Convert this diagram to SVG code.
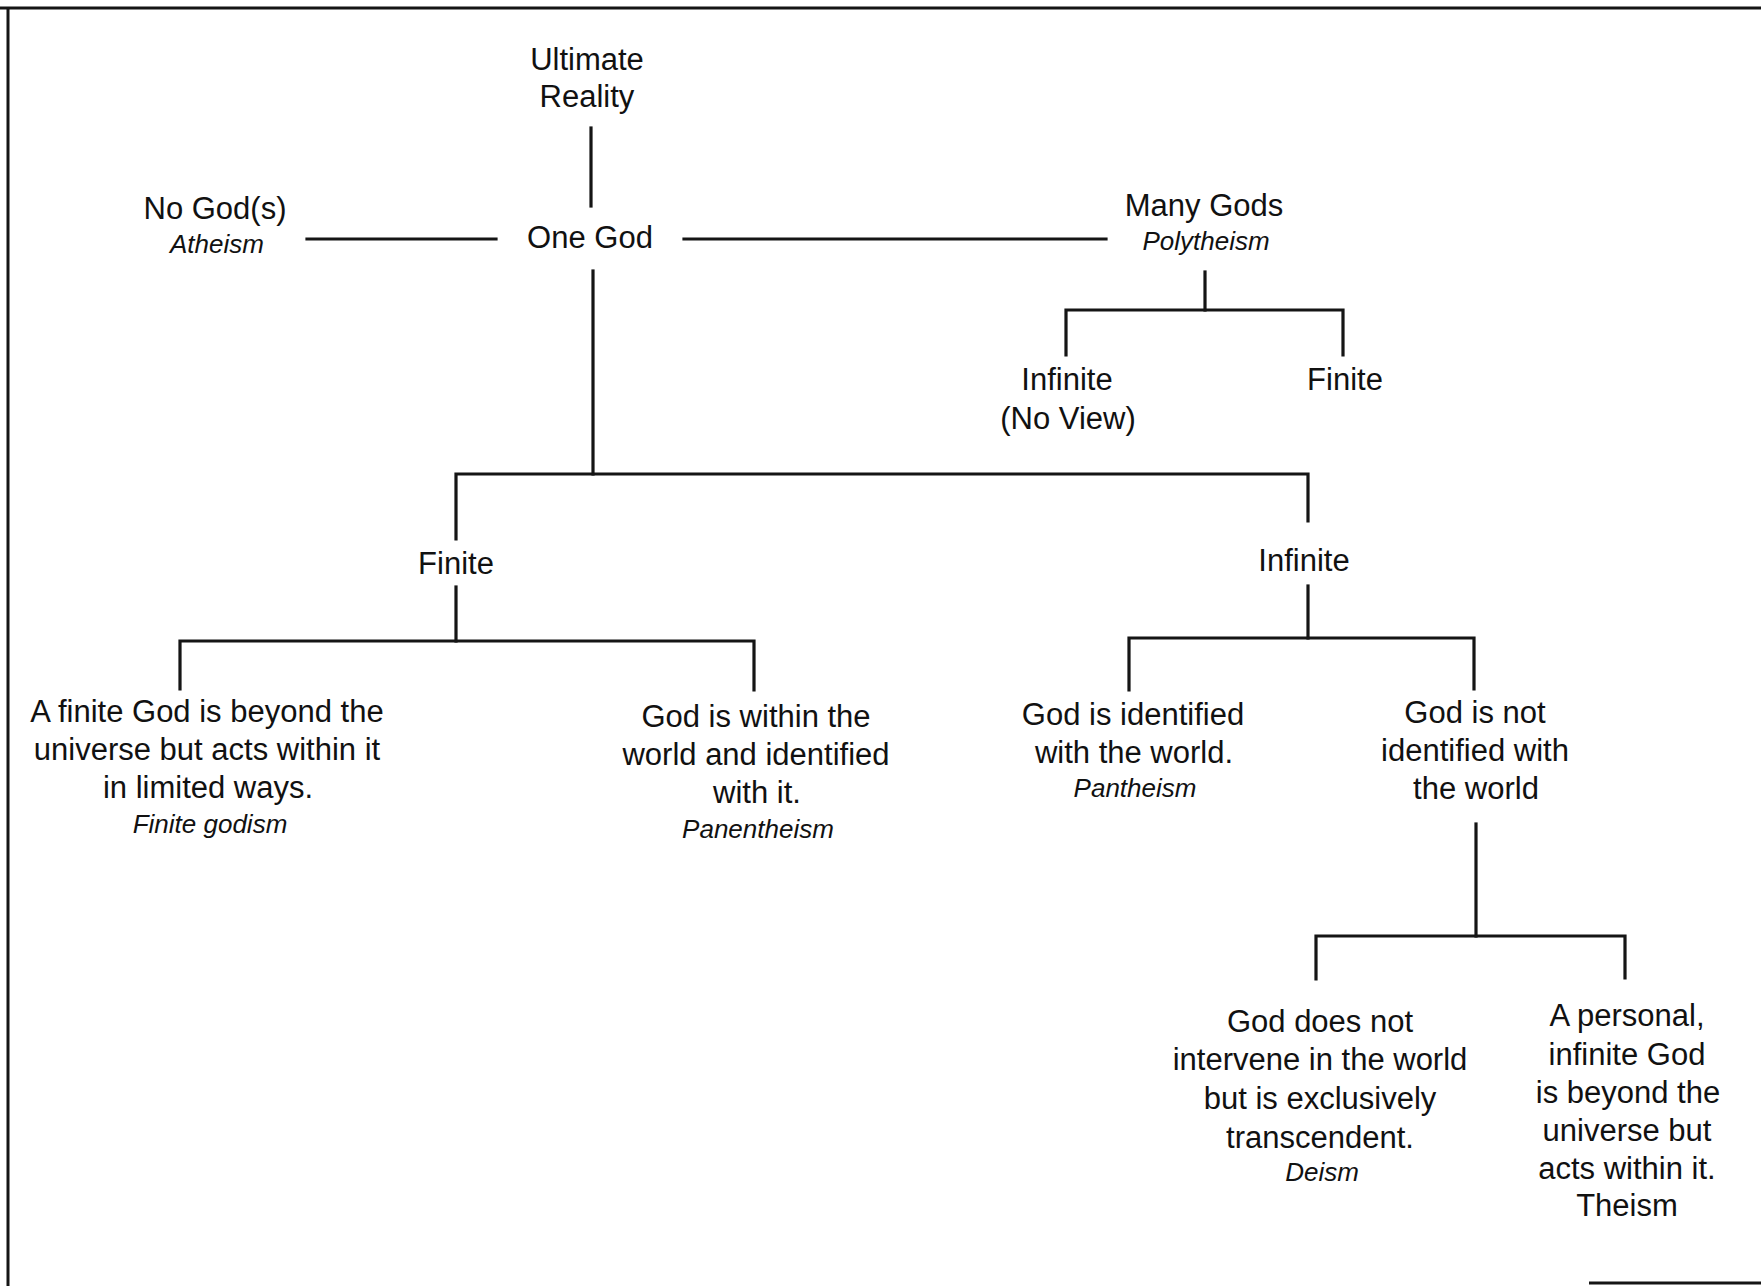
<svg xmlns="http://www.w3.org/2000/svg" width="1761" height="1286" viewBox="0 0 1761 1286">
<style>
.t{font-family:"Liberation Sans",Arial,sans-serif;font-size:31px;fill:#111;text-anchor:middle}
.i{font-family:"Liberation Sans",Arial,sans-serif;font-size:26px;font-style:italic;fill:#111;text-anchor:middle}
.c{stroke:#151515;stroke-width:3.2;fill:none;stroke-linecap:square}
.b{stroke:#151515;stroke-width:3;fill:none}
</style>
<rect width="1761" height="1286" fill="#fff"/>
<g id="border">
<line class="b" x1="0" y1="8" x2="1761" y2="8"/>
<line class="b" x1="8" y1="8" x2="8" y2="1286"/>
<line class="b" x1="1589" y1="1283" x2="1761" y2="1283"/>
</g>
<g id="connectors">
<line class="c" x1="591" y1="128" x2="591" y2="206"/>
<line class="c" x1="307" y1="239" x2="496" y2="239"/>
<line class="c" x1="684" y1="239" x2="1106" y2="239"/>
<line class="c" x1="593" y1="271" x2="593" y2="474"/>
<polyline class="c" points="456,539 456,474 1308,474 1308,521"/>
<line class="c" x1="1205" y1="272" x2="1205" y2="310"/>
<polyline class="c" points="1066,355 1066,310 1343,310 1343,355"/>
<line class="c" x1="456" y1="587" x2="456" y2="641"/>
<polyline class="c" points="180,689 180,641 754,641 754,690"/>
<line class="c" x1="1308" y1="586" x2="1308" y2="638"/>
<polyline class="c" points="1129,690 1129,638 1474,638 1474,689"/>
<line class="c" x1="1476" y1="824" x2="1476" y2="936"/>
<polyline class="c" points="1316,979 1316,936 1625,936 1625,978"/>
</g>
<g id="ultimate-reality"><text class="t" x="587" y="70">Ultimate</text><text class="t" x="587" y="107">Reality</text></g>
<g id="no-gods"><text class="t" x="215" y="219">No God(s)</text><text class="i" x="217" y="253">Atheism</text></g>
<g id="one-god"><text class="t" x="590" y="248">One God</text></g>
<g id="many-gods"><text class="t" x="1204" y="216">Many Gods</text><text class="i" x="1206" y="250">Polytheism</text></g>
<g id="poly-infinite"><text class="t" x="1067" y="390">Infinite</text><text class="t" x="1068" y="429">(No View)</text></g>
<g id="poly-finite"><text class="t" x="1345" y="390">Finite</text></g>
<g id="finite"><text class="t" x="456" y="574">Finite</text></g>
<g id="infinite"><text class="t" x="1304" y="571">Infinite</text></g>
<g id="finite-godism"><text class="t" x="207" y="722">A finite God is beyond the</text><text class="t" x="207" y="760">universe but acts within it</text><text class="t" x="208" y="798">in limited ways.</text><text class="i" x="210" y="833">Finite godism</text></g>
<g id="panentheism"><text class="t" x="756" y="727">God is within the</text><text class="t" x="756" y="765">world and identified</text><text class="t" x="757" y="803">with it.</text><text class="i" x="758" y="838">Panentheism</text></g>
<g id="pantheism"><text class="t" x="1133" y="725">God is identified</text><text class="t" x="1134" y="763">with the world.</text><text class="i" x="1135" y="797">Pantheism</text></g>
<g id="not-identified"><text class="t" x="1475" y="723">God is not</text><text class="t" x="1475" y="761">identified with</text><text class="t" x="1476" y="799">the world</text></g>
<g id="deism"><text class="t" x="1320" y="1032">God does not</text><text class="t" x="1320" y="1070">intervene in the world</text><text class="t" x="1320" y="1109">but is exclusively</text><text class="t" x="1320" y="1148">transcendent.</text><text class="i" x="1322" y="1181">Deism</text></g>
<g id="theism"><text class="t" x="1627" y="1026">A personal,</text><text class="t" x="1627" y="1065">infinite God</text><text class="t" x="1628" y="1103">is beyond the</text><text class="t" x="1627" y="1141">universe but</text><text class="t" x="1627" y="1179">acts within it.</text><text class="t" x="1627" y="1216">Theism</text></g>
</svg>
